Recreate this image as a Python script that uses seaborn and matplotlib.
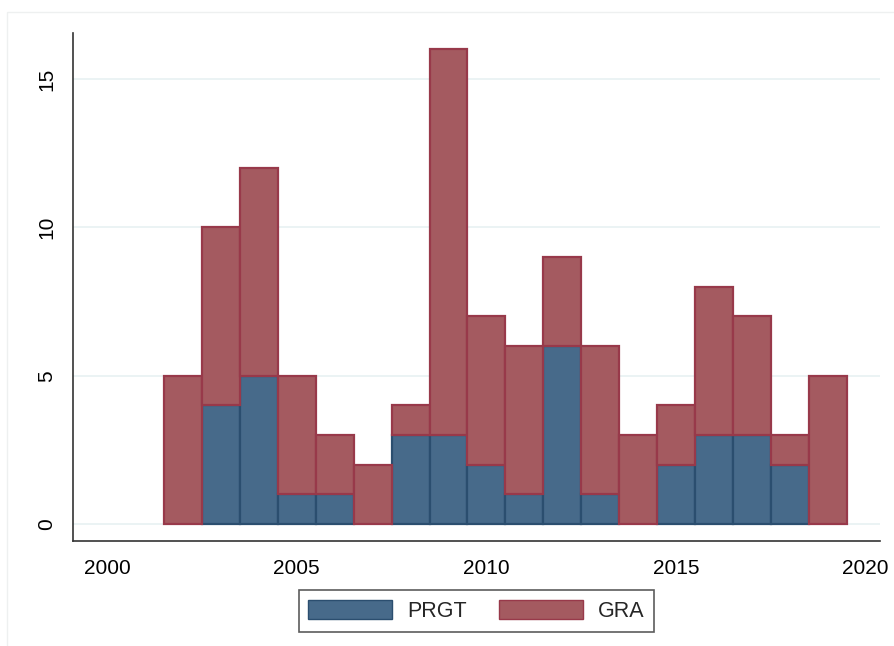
import numpy as np
import pandas as pd
import matplotlib.pyplot as plt
import matplotlib.patches as mpatches
import seaborn as sns

sns.set_theme(style="white")
plt.rcParams["font.family"] = ["Liberation Sans", "DejaVu Sans"]

# counts per year
years = [2002, 2003, 2004, 2005, 2006, 2007, 2008, 2009, 2010,
         2011, 2012, 2013, 2014, 2015, 2016, 2017, 2018, 2019]
prgt = [0, 4, 5, 1, 1, 0, 3, 3, 2, 1, 6, 1, 0, 2, 3, 3, 2, 0]
gra = [5, 6, 7, 4, 2, 2, 1, 13, 5, 5, 3, 5, 3, 2, 5, 4, 1, 5]

blue, blue_edge = "#476a8a", "#2b4e6f"
red, red_edge = "#a45a60", "#98394a"

df = pd.DataFrame({
    "year": years * 2,
    "count": prgt + gra,
    "facility": ["PRGT"] * len(years) + ["GRA"] * len(years),
})

fig = plt.figure(figsize=(8.94, 6.46), dpi=100)
ax = fig.add_axes([0.0817, 0.1625, 0.9023, 0.7865])

# seaborn stacks the last hue level at the bottom
sns.histplot(data=df, x="year", weights="count", hue="facility",
             hue_order=["GRA", "PRGT"], multiple="stack", discrete=True,
             palette={"PRGT": blue, "GRA": red}, alpha=1, linewidth=0,
             legend=False, ax=ax)

# colour the bar edges by layer
for p in ax.patches:
    fc = p.get_facecolor()
    p.set_edgecolor(blue_edge if abs(fc[2] - 0.54) < 0.05 else red_edge)
    p.set_linewidth(1.6)
    if p.get_height() == 0:
        p.set_visible(False)

ax.set_xlim(1999.10, 2020.37)
ax.set_ylim(-0.57, 16.55)
ax.set_xticks([2000, 2005, 2010, 2015, 2020])
ax.set_yticks([0, 5, 10, 15])
ax.set_xlabel("")
ax.set_ylabel("")
ax.grid(axis="y", color="#e8f1f2", linewidth=1.2)
ax.set_axisbelow(True)
for s in ["top", "right"]:
    ax.spines[s].set_visible(False)
for s in ["left", "bottom"]:
    ax.spines[s].set_color("#333333")
    ax.spines[s].set_linewidth(1.2)
ax.tick_params(axis="both", which="major", direction="out", length=6,
               width=1.2, color="#555555", labelsize=15, labelcolor="black")
ax.tick_params(axis="x", pad=7)
ax.tick_params(axis="y", pad=6)
for lab in ax.get_yticklabels():
    lab.set_rotation(90)
    lab.set_va("center")

# faint outer frame
fig.patches.append(mpatches.Rectangle((0.008, -0.01), 1.0, 0.992,
                                      transform=fig.transFigure, fill=False,
                                      edgecolor="#eef0f0", linewidth=1))

handles = [mpatches.Patch(facecolor=blue, edgecolor=blue_edge, label="PRGT"),
           mpatches.Patch(facecolor=red, edgecolor=red_edge, label="GRA")]
leg = fig.legend(handles=handles, loc="center", bbox_to_anchor=(0.533, 0.054),
                 ncol=2, frameon=True, fancybox=False, edgecolor="#333333",
                 fontsize=15.5, handlelength=3.9, handleheight=1.0,
                 columnspacing=1.5, borderpad=0.45, handletextpad=0.7)
leg.get_frame().set_linewidth(1.2)

fig.savefig("out.png", dpi=100)
